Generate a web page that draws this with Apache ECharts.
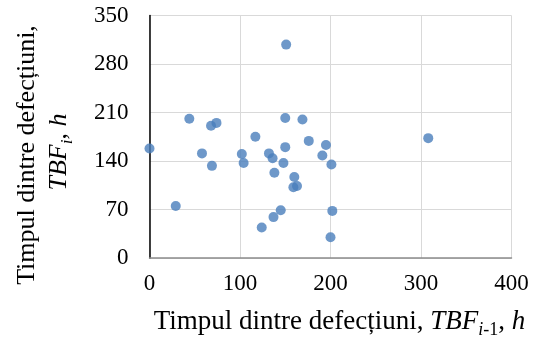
<!DOCTYPE html>
<html>
<head>
<meta charset="utf-8">
<script src="https://cdn.jsdelivr.net/npm/echarts@6/dist/echarts.min.js"></script>
<style>html,body{margin:0;padding:0;background:#fff}#c{width:539px;height:343px}</style>
</head>
<body>
<div id="c"></div>
<script>
var tbfPrev = [0, 29, 44, 58, 68, 69, 74, 102, 104, 117, 124, 132, 136, 137, 138, 145, 148, 150, 150, 151, 159, 160, 163, 169, 176, 191, 195, 201, 200, 202, 308];
var tbfCurr = [158, 75, 201, 151, 191, 133, 195, 150, 137, 175, 44, 151, 144, 59, 123, 69, 137, 160, 202, 308, 102, 117, 104, 200, 169, 148, 163, 135, 30, 68, 173];
var xTicks = [0, 100, 200, 300, 400];
var yTicks = [0, 70, 140, 210, 280, 350];

var FONT = 'Liberation Serif';
var points = tbfPrev.map(function (v, i) { return [v, tbfCurr[i]]; });
var chart = echarts.init(document.getElementById('c'), null, {renderer: 'canvas'});
chart.setOption({
  animation: false,
  grid: {left: 149.5, right: 27.5, top: 15.5, bottom: 85, containLabel: false},
  xAxis: {
    type: 'value', min: xTicks[0], max: xTicks[xTicks.length - 1], interval: 100,
    axisLine: {show: true, onZero: false, lineStyle: {color: '#8c8c8c', width: 1.5}},
    axisTick: {show: false},
    splitLine: {show: true, lineStyle: {color: '#d9d9d9', width: 1}},
    axisLabel: {fontFamily: FONT, fontSize: 23, color: '#000', margin: 14}
  },
  yAxis: {
    type: 'value', min: yTicks[0], max: yTicks[yTicks.length - 1], interval: 70,
    axisLine: {show: true, onZero: false, lineStyle: {color: '#000', width: 1.5}},
    axisTick: {show: false},
    splitLine: {show: true, lineStyle: {color: '#d9d9d9', width: 1}},
    axisLabel: {fontFamily: FONT, fontSize: 23, color: '#000', margin: 21}
  },
  series: [{
    type: 'scatter', data: points, symbol: 'circle', symbolSize: 10,
    itemStyle: {color: '#4a7ebb'}
  }],
  graphic: [
    {
      type: 'text', x: 339.5, y: 322, silent: true,
      style: {
        text: 'Timpul dintre defecțiuni, {it|TBF}{sub|i}{s|-1}, {it|h}',
        fontFamily: FONT, fontSize: 27, fill: '#000', align: 'center', verticalAlign: 'middle',
        rich: {
          it: {fontFamily: FONT, fontSize: 27, fontStyle: 'italic', fill: '#000'},
          sub: {fontFamily: FONT, fontSize: 18, fontStyle: 'italic', fill: '#000', verticalAlign: 'bottom', padding: [0, 0, -4, 0]},
          s: {fontFamily: FONT, fontSize: 18, fill: '#000', verticalAlign: 'bottom', padding: [0, 0, -4, 0]}
        }
      }
    },
    {
      type: 'text', x: 27, y: 155, rotation: Math.PI / 2, silent: true,
      style: {
        text: 'Timpul dintre defecțiuni,',
        fontFamily: FONT, fontSize: 26, fill: '#000', align: 'center', verticalAlign: 'middle'
      }
    },
    {
      type: 'text', x: 59, y: 152, rotation: Math.PI / 2, silent: true,
      style: {
        text: '{it|TBF}{sub|i}, {it|h}',
        fontFamily: FONT, fontSize: 26, fill: '#000', align: 'center', verticalAlign: 'middle',
        rich: {
          it: {fontFamily: FONT, fontSize: 26, fontStyle: 'italic', fill: '#000'},
          sub: {fontFamily: FONT, fontSize: 17, fontStyle: 'italic', fill: '#000', verticalAlign: 'bottom', padding: [0, 0, -4, 0]}
        }
      }
    }
  ]
});
</script>
</body>
</html>
